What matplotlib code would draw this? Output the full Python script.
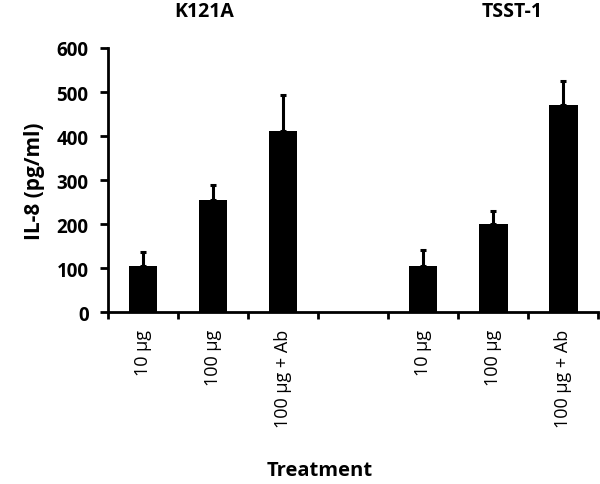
import numpy as np
import matplotlib.pyplot as plt

plt.rcParams['font.family'] = ['Open Sans', 'DejaVu Sans']

labels = ['10 µg', '100 µg', '100 µg + Ab', '', '10 µg', '100 µg', '100 µg + Ab']
k121a = [106, 256, 412]
k121a_err = [30, 32, 82]
tsst = [106, 201, 470]
tsst_err = [36, 29, 55]

vals = k121a + [np.nan] + tsst
errs = k121a_err + [0] + tsst_err
x = np.arange(len(labels))

fig = plt.figure(figsize=(6, 4.85), dpi=100)
ax = fig.add_axes([0.18, 0.354, 0.817, 0.545])

ax.bar(x, vals, width=0.41, color='black', zorder=2)
ax.errorbar(x, vals, yerr=[np.zeros(len(errs)), errs], fmt='none',
            ecolor='black', elinewidth=2.2, capsize=2, capthick=2.2, zorder=3)

ax.set_xlim(-0.5, 6.5)
ax.set_ylim(0, 600)
ax.set_yticks(range(0, 601, 100))
ax.set_yticklabels([str(v) for v in range(0, 601, 100)], fontsize=13.5, fontweight='bold')
ax.set_xticks(np.arange(-0.5, 7, 1))
ax.set_xticklabels([])
ax.set_xticks(x, minor=True)
ax.set_xticklabels(labels, minor=True, rotation=90, fontsize=13, va='top')
ax.tick_params(axis='x', which='minor', length=0, pad=12)
ax.tick_params(axis='x', which='major', direction='out', length=5, width=2)
ax.tick_params(axis='y', direction='out', length=6, width=2, pad=8)

for s in ['top', 'right']:
    ax.spines[s].set_visible(False)
for s in ['left', 'bottom']:
    ax.spines[s].set_linewidth(2)

ax.set_ylabel('IL-8 (pg/ml)', fontsize=15, fontweight='bold', labelpad=8)

fig.text(204 / 600, 1 - 12 / 485, 'K121A', ha='center', va='center', fontsize=14, fontweight='bold')
fig.text(512 / 600, 1 - 12 / 485, 'TSST-1', ha='center', va='center', fontsize=14, fontweight='bold')
fig.text(320 / 600, 1 - 471 / 485, 'Treatment', ha='center', va='center', fontsize=14.5, fontweight='bold')

fig.savefig('out.png', dpi=100)
